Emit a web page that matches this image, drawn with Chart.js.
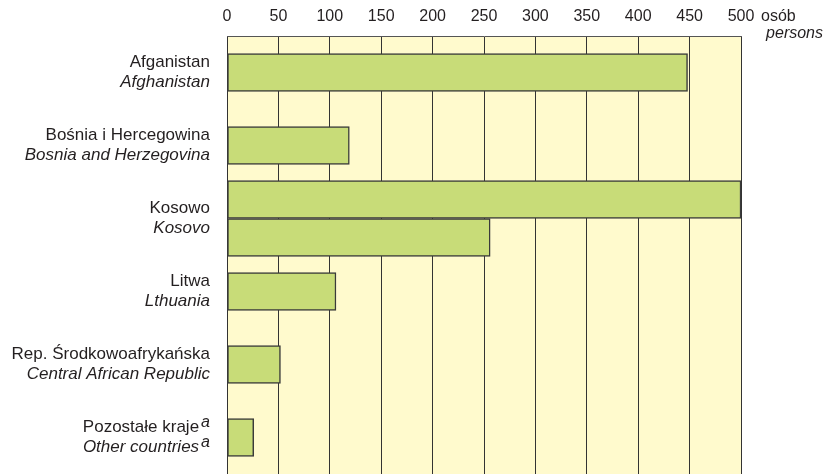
<!DOCTYPE html>
<html>
<head>
<meta charset="utf-8">
<script src="https://cdn.jsdelivr.net/npm/chart.js@4.4.1/dist/chart.umd.min.js"></script>
<style>
  html, body { margin: 0; padding: 0; background: #ffffff; }
  #wrap { width: 825px; height: 474px; }
</style>
</head>
<body>
<div id="wrap"><canvas id="chart" width="825" height="474"></canvas></div>
<script>
const categoriesPl = ["Afganistan", "Bośnia i Hercegowina", "Kosowo", "Litwa", "Rep. Środkowoafrykańska", "Pozostałe kraje"];
const categoriesEn = ["Afghanistan", "Bosnia and Herzegovina", "Kosovo", "Lthuania", "Central African Republic", "Other countries"];
const footnoteMarks = ["", "", "", "", "", "a"];
const seriesMain = [448, 119, 500, 106, 52, 26];
const seriesSecond = [null, null, 256, null, null, null];
const xTicks = [0, 50, 100, 150, 200, 250, 300, 350, 400, 450, 500];

const FONT = "'Liberation Sans', Arial, sans-serif";
const TEXT = "#231f20";
const BAR_FILL = "#c8dc78";
const BAR_LINE = "#3a3a3a";

const backgroundPlugin = {
  id: "plotBackground",
  beforeDraw(chart) {
    const { ctx, chartArea } = chart;
    ctx.save();
    ctx.fillStyle = "#fffacd";
    ctx.fillRect(chartArea.left, chartArea.top, chartArea.right - chartArea.left, chartArea.bottom - chartArea.top);
    ctx.restore();
  },
};

const labelsPlugin = {
  id: "twoLineLabels",
  afterDraw(chart) {
    const { ctx } = chart;
    const yScale = chart.scales.y;
    const xScale = chart.scales.x;
    const right = chart.chartArea.left - 17;
    ctx.save();
    ctx.fillStyle = TEXT;
    ctx.textBaseline = "middle";
    categoriesPl.forEach((pl, i) => {
      const y = yScale.getPixelForValue(i);
      const mark = footnoteMarks[i];
      let markW = 0;
      if (mark) {
        ctx.font = "italic 16px " + FONT;
        markW = ctx.measureText(mark).width + 2;
      }
      ctx.textAlign = "right";
      ctx.font = "17px " + FONT;
      ctx.fillText(pl, right - markW, y - 10);
      ctx.font = "italic 17px " + FONT;
      ctx.fillText(categoriesEn[i], right - markW, y + 10);
      if (mark) {
        ctx.font = "italic 16px " + FONT;
        ctx.textAlign = "right";
        ctx.fillText(mark, right, y - 15);
        ctx.fillText(mark, right, y + 5);
      }
    });
    // unit labels next to the top axis
    ctx.textAlign = "left";
    ctx.font = "16px " + FONT;
    ctx.fillText("osób", xScale.right + 20, 17);
    ctx.textAlign = "right";
    ctx.font = "italic 16px " + FONT;
    ctx.fillText("persons", 823, 34);
    ctx.restore();
  },
};

new Chart(document.getElementById("chart"), {
  type: "bar",
  data: {
    labels: categoriesPl,
    datasets: [
      {
        data: seriesMain,
        backgroundColor: BAR_FILL,
        borderColor: BAR_LINE,
        borderWidth: 1.5,
        borderSkipped: false,
      },
      {
        data: seriesSecond,
        backgroundColor: BAR_FILL,
        borderColor: BAR_LINE,
        borderWidth: 1.5,
        borderSkipped: false,
      },
    ],
  },
  options: {
    indexAxis: "y",
    responsive: false,
    animation: false,
    skipNull: true,
    barThickness: 38,
    layout: { padding: { left: 227, right: 84, top: 0, bottom: 0 } },
    plugins: {
      legend: { display: false },
      tooltip: { enabled: false },
    },
    scales: {
      x: {
        position: "top",
        min: 0,
        max: 500,
        afterFit(scale) { scale.height = 36; },
        afterBuildTicks(scale) { scale.ticks = xTicks.map((v) => ({ value: v })); },
        ticks: {
          padding: 10,
          color: TEXT,
          font: { family: FONT, size: 16 },
          maxRotation: 0,
        },
        grid: { color: "#333333", lineWidth: 1, drawTicks: false },
        border: { display: true, color: "#555555", width: 1 },
      },
      y: {
        display: false,
      },
    },
  },
  plugins: [backgroundPlugin, labelsPlugin],
});
</script>
</body>
</html>
